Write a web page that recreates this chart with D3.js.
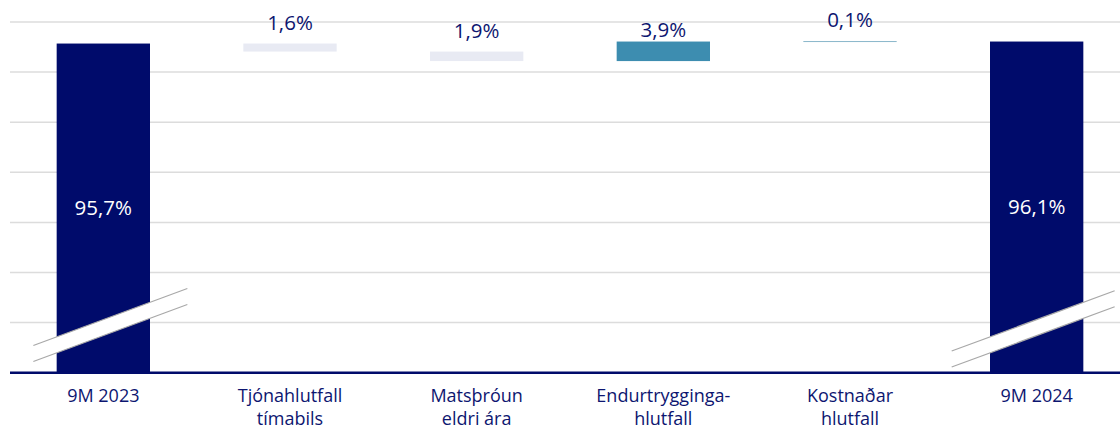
<!DOCTYPE html>
<html>
<head>
<meta charset="utf-8">
<script src="https://cdn.jsdelivr.net/npm/d3@7"></script>
<style>
  body { margin: 0; background: #fff; }
  #chart { width: 1120px; height: 429px; }
  text { font-family: "Open Sans", "Noto Sans", sans-serif; }
</style>
</head>
<body>
<div id="chart"></div>
<script>
// categories (line-broken as in the chart)
const categories = [
    ["9M 2023"],
    ["Tjónahlutfall", "tímabils"],
    ["Matsþróun", "eldri ára"],
    ["Endurtrygginga-", "hlutfall"],
    ["Kostnaðar", "hlutfall"],
    ["9M 2024"]
];
// step values: totals for first/last, changes in between
const stepValues = [95.7, -1.6, -1.9, 3.9, 0.1, 96.1];
const stepKinds = ["total", "delta", "delta", "delta", "delta", "total"];
const barColors = ["#000b6b", "#e8eaf3", "#e8eaf3", "#3d8db0", "#8ab7cb", "#000b6b"];
const yTicks = [30, 40, 50, 60, 70, 80, 90, 100];

const width = 1120, height = 429;
const margin = {top: 22, bottom: 55, left: 10};

const svg = d3.select("#chart").append("svg")
    .attr("width", width)
    .attr("height", height);

const x = d3.scaleBand()
    .domain(d3.range(categories.length))
    .range([margin.left, margin.left + 1120])
    .paddingInner(0.5)
    .paddingOuter(0.25);

const y = d3.scaleLinear()
    .domain([30, 100])
    .range([height - margin.bottom - 1.3, margin.top]);

const fmt = d3.formatLocale({decimal: ",", thousands: ".", grouping: [3], currency: ["", ""]}).format(".1f");

// build waterfall steps
let running = 0;
const bars = stepValues.map((v, i) => {
    let lo, hi;
    if (stepKinds[i] === "total") {
        lo = 30; hi = v; running = v;
    } else {
        const next = running + v;
        lo = Math.min(running, next); hi = Math.max(running, next);
        running = next;
    }
    return {i: i, kind: stepKinds[i], value: v, lo: lo, hi: hi};
});

// gridlines
svg.append("g")
    .selectAll("line")
    .data(yTicks.filter(t => t !== 30))
    .join("line")
    .attr("x1", margin.left)
    .attr("x2", width)
    .attr("y1", d => y(d))
    .attr("y2", d => y(d))
    .attr("stroke", "#dcdcdc")
    .attr("stroke-width", 1.5);

// bars
svg.append("g")
    .selectAll("rect")
    .data(bars)
    .join("rect")
    .attr("x", d => x(d.i))
    .attr("width", x.bandwidth())
    .attr("y", d => y(d.hi))
    .attr("height", d => Math.max(1, y(d.lo) - y(d.hi)))
    .attr("fill", d => barColors[d.i]);

// axis break marks on the total bars
const breakVal = 39;
const slope = -0.37;
const gap = 8;
bars.filter(d => d.kind === "total").forEach((d, k) => {
    const cx = x(d.i) + x.bandwidth() / 2;
    const cy = y(breakVal);
    const span = k === 0 ? [-70, 84] : [-85, 78];
    const x0 = cx + span[0], x1 = cx + span[1];
    const yAt = (xx, off) => cy + off + (xx - cx) * slope;
    const g = svg.append("g");
    g.append("polygon")
        .attr("points", [[x0, yAt(x0, -gap)], [x1, yAt(x1, -gap)], [x1, yAt(x1, gap)], [x0, yAt(x0, gap)]].join(" "))
        .attr("fill", "#fff");
    [-gap, gap].forEach(off => {
        g.append("line")
            .attr("x1", x0).attr("y1", yAt(x0, off))
            .attr("x2", x1).attr("y2", yAt(x1, off))
            .attr("stroke", "#a8a8a8")
            .attr("stroke-width", 1.2);
    });
});

// baseline
svg.append("line")
    .attr("x1", margin.left)
    .attr("x2", width)
    .attr("y1", y(30))
    .attr("y2", y(30))
    .attr("stroke", "#000b6b")
    .attr("stroke-width", 2.5);

// value labels
svg.append("g")
    .selectAll("text")
    .data(bars)
    .join("text")
    .attr("x", d => x(d.i) + x.bandwidth() / 2)
    .attr("y", d => d.kind === "total"
        ? (y(d.hi) + y(30)) / 2 + 7
        : Math.max(y(d.hi) - 14, y(d.lo) - 24))
    .attr("text-anchor", "middle")
    .attr("font-size", 20.5)
    .attr("fill", d => d.kind === "total" ? "#fff" : "#0d1670")
    .text(d => fmt(Math.abs(d.value)) + "%");

// category labels
const xl = svg.append("g")
    .selectAll("text")
    .data(categories)
    .join("text")
    .attr("x", (d, i) => x(i) + x.bandwidth() / 2)
    .attr("y", 402)
    .attr("text-anchor", "middle")
    .attr("font-size", 18)
    .attr("fill", "#0d1670");

xl.selectAll("tspan")
    .data(d => d)
    .join("tspan")
    .attr("x", function() { return this.parentNode.getAttribute("x"); })
    .attr("dy", (d, i) => i === 0 ? 0 : 23)
    .text(d => d);
</script>
</body>
</html>
